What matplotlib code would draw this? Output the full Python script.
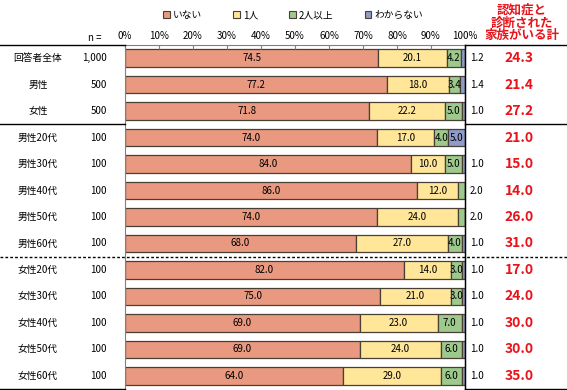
import matplotlib
matplotlib.use("Agg")
import matplotlib.pyplot as plt
from matplotlib.lines import Line2D
from matplotlib.patches import Patch
import matplotlib.transforms as mtransforms

plt.rcParams['font.family'] = ['Noto Sans CJK JP', 'DejaVu Sans']

# data
categories = ['回答者全体', '男性', '女性', '男性20代', '男性30代', '男性40代', '男性50代', '男性60代',
              '女性20代', '女性30代', '女性40代', '女性50代', '女性60代']
n_values = ['1,000', '500', '500', '100', '100', '100', '100', '100',
            '100', '100', '100', '100', '100']
series_names = ['いない', '1人', '2人以上', 'わからない']
inai = [74.5, 77.2, 71.8, 74.0, 84.0, 86.0, 74.0, 68.0, 82.0, 75.0, 69.0, 69.0, 64.0]
hitori = [20.1, 18.0, 22.2, 17.0, 10.0, 12.0, 24.0, 27.0, 14.0, 21.0, 23.0, 24.0, 29.0]
futari = [4.2, 3.4, 5.0, 4.0, 5.0, 2.0, 2.0, 4.0, 3.0, 3.0, 7.0, 6.0, 6.0]
wakaranai = [1.2, 1.4, 1.0, 5.0, 1.0, 0.0, 0.0, 1.0, 1.0, 1.0, 1.0, 1.0, 1.0]
totals = ['24.3', '21.4', '27.2', '21.0', '15.0', '14.0', '26.0', '31.0',
          '17.0', '24.0', '30.0', '30.0', '35.0']

colors = ['#E9997F', '#FFE699', '#9DC98C', '#8F9CC9']

fig = plt.figure(figsize=(5.67, 3.9), dpi=100)
ax = fig.add_axes([125/567, 1 - 389/390, 340/567, 344/390])

series = [inai, hitori, futari, wakaranai]
ypos = list(range(len(categories)))
left = [0.0] * len(categories)
for vals, col in zip(series, colors):
    ax.barh(ypos, vals, left=left, height=0.66, color=col, edgecolor='#4a3f35', linewidth=0.9)
    for i, v in enumerate(vals):
        if v <= 0:
            continue
        # small segments at the right end get their label outside the bar
        if v <= 2.0 and left[i] + v >= 97.9:
            ax.text(101.5, i, f'{v:.1f}', ha='left', va='center', fontsize=7, clip_on=False)
        else:
            ax.text(left[i] + v / 2, i, f'{v:.1f}', ha='center', va='center', fontsize=7)
    left = [l + v for l, v in zip(left, vals)]

ax.set_xlim(0, 100)
ax.set_ylim(len(categories) - 0.5, -0.5)
ax.set_yticks([])
ax.xaxis.tick_top()
ax.set_xticks(range(0, 101, 10))
ax.set_xticklabels([f'{t}%' for t in range(0, 101, 10)], fontsize=7)
ax.tick_params(axis='x', direction='in', length=3, color='#808080', pad=3)
for s in ['left', 'top']:
    ax.spines[s].set_color('#808080')
ax.spines['right'].set_color('black')
ax.spines['bottom'].set_visible(False)

# left columns and red totals (x given in percent units of the bar axis)
for i, (c, n) in enumerate(zip(categories, n_values)):
    ax.text(-87/340 * 100, i, c, ha='center', va='center', fontsize=7, clip_on=False)
    ax.text(-18/340 * 100, i, n, ha='right', va='center', fontsize=7, clip_on=False)
    ax.text(394/340 * 100, i, totals[i], ha='center', va='center', fontsize=10,
            color='#E8141B', fontweight='bold', clip_on=False)

fig.text(95/567, 1 - 38/390, 'n =', ha='center', va='center', fontsize=7)
fig.text(522/567, 1 - 23/390, '認知症と\n診断された\n家族がいる計', ha='center', va='center',
         fontsize=9, color='#E8141B', fontweight='bold', linespacing=0.95)

# separator lines
tr = mtransforms.blended_transform_factory(fig.transFigure, ax.transData)
for yv in [-0.5, 2.5, 12.5]:
    for x0, x1 in [(0, 125/567), (465/567, 1)]:
        fig.add_artist(Line2D([x0, x1], [yv, yv], transform=tr, color='black', linewidth=1.0))
fig.add_artist(Line2D([0, 1], [7.5, 7.5], transform=tr, color='black', linewidth=1.0,
                      linestyle=(0, (2, 1.5))))
fig.add_artist(Line2D([465/567, 465/567], [0, 1 - 45/390], transform=fig.transFigure,
                      color='black', linewidth=1.0))

handles = [Patch(facecolor=c, edgecolor='#4a3f35', linewidth=0.8) for c in colors]
fig.legend(handles, series_names, loc='center', bbox_to_anchor=(293/567, 1 - 15/390), ncol=4,
           frameon=False, fontsize=7, handlelength=0.7, handleheight=0.7, handletextpad=0.3,
           columnspacing=3.2)

fig.savefig('out.png', dpi=100)
